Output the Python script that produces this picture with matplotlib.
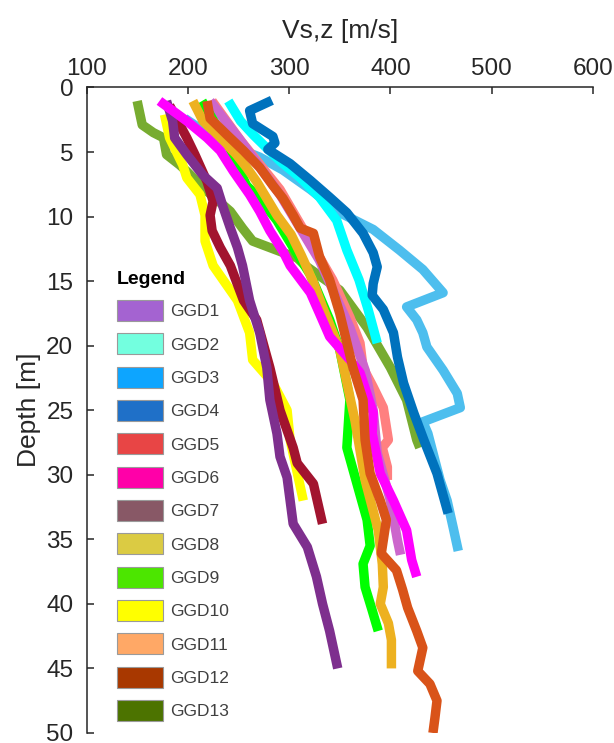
import matplotlib
matplotlib.use("Agg")
import matplotlib.pyplot as plt
import matplotlib.patches as mpatches

plt.rcParams['font.family'] = ['Liberation Sans', 'DejaVu Sans']

# Vs profiles: (depth [m], Vs [m/s]) per profile, named by line colour
olive_depth = [1.05, 2.9, 3.5, 3.9, 5.2, 6.0, 6.5, 7.9, 9.6, 10.9, 11.9, 12.7, 13.2, 13.8, 15.7, 18.6, 21.7, 24.2, 27.3, 27.9]
olive_vs = [150, 155, 166, 176, 179, 192, 199, 217, 242, 254, 264, 291, 308, 316, 350, 377, 400, 416, 426, 429]

yellow_depth = [2.1, 3.9, 6.0, 7.0, 8.3, 9.9, 11.9, 13.8, 16.5, 19.0, 21.1, 22.9, 25.0, 27.3, 32.0]
yellow_vs = [177, 182, 195, 199, 212, 217, 217, 225, 249, 261, 264, 284, 298, 301, 314]

darkred_depth = [1.4, 3.9, 5.2, 7.3, 8.8, 9.9, 11.1, 12.4, 13.8, 16.5, 18.0, 21.7, 25.0, 27.9, 29.1, 30.7, 33.8]
darkred_vs = [182, 199, 207, 219, 225, 222, 224, 232, 242, 255, 268, 281, 291, 304, 308, 324, 333]

purple_depth = [1.05, 2.6, 3.9, 5.2, 6.8, 7.8, 9.3, 10.9, 12.4, 13.8, 16.5, 19.0, 21.7, 24.2, 26.8, 28.6,
                30.2, 32.0, 33.8, 35.6, 37.9, 40.0, 42.1, 45.0]
purple_vs = [179, 185, 187, 199, 215, 229, 235, 242, 249, 254, 261, 271, 278, 281, 288, 291,
             298, 301, 304, 318, 327, 333, 340, 348]

lightblue_depth = [2.4, 3.7, 4.8, 5.4, 6.4, 7.9, 9.7, 11.0, 12.6, 14.1, 15.9, 17.0, 18.0, 19.0, 20.1, 21.9,
                   23.7, 24.8, 25.9, 26.8, 28.3, 30.4, 32.0, 34.1, 35.9]
lightblue_vs = [197, 222, 252, 271, 294, 321, 350, 383, 409, 432, 452, 416, 426, 432, 436, 452,
                466, 469, 432, 437, 442, 449, 456, 462, 467]

cyan_depth = [1.05, 2.6, 3.7, 4.7, 5.7, 7.0, 8.5, 10.3, 12.6, 14.9, 17.2, 19.8]
cyan_vs = [240, 252, 265, 278, 291, 311, 330, 347, 357, 369, 378, 387]

blue_depth = [1.0, 1.8, 2.8, 3.8, 4.3, 4.8, 5.9, 7.2, 8.5, 9.7, 11.3, 12.8, 13.9, 15.2, 16.1, 17.2,
              19.0, 20.9, 22.9, 25.2, 27.3, 29.9, 33.0]
blue_vs = [283, 261, 264, 284, 286, 279, 301, 321, 340, 357, 373, 383, 387, 383, 382, 393,
           403, 407, 413, 423, 433, 446, 457]

salmon_depth = [1.05, 4.1, 7.9, 11.8, 14.9, 17.8, 19.8, 21.7, 23.2, 24.8, 27.3, 27.9, 29.4, 30.4]
salmon_vs = [224, 252, 291, 320, 343, 360, 370, 373, 383, 393, 398, 392, 397, 397]

orchid_depth = [1.05, 4.1, 8.3, 13.4, 18.6, 21.9, 25.0, 28.3, 32.0, 35.1, 36.2]
orchid_vs = [222, 252, 291, 330, 360, 375, 383, 387, 400, 407, 410]

green_depth = [1.05, 4.8, 7.6, 8.6, 10.3, 12.4, 14.5, 18.0, 20.3, 24.2, 27.9, 30.7, 33.5, 35.5, 36.9,
               38.7, 40.5, 42.1]
green_vs = [214, 242, 258, 271, 288, 304, 321, 340, 350, 360, 357, 367, 377, 380, 373,
            375, 382, 388]

mustard_depth = [1.05, 2.6, 3.9, 5.2, 6.2, 7.3, 8.6, 9.9, 11.4, 13.0, 14.9, 17.0, 20.3, 25.8, 30.4,
                 34.3, 36.9, 38.7, 40.0, 41.5, 42.8, 45.0]
mustard_vs = [205, 215, 232, 248, 258, 268, 278, 288, 302, 312, 323, 333, 350, 365, 375,
              388, 392, 393, 390, 398, 401, 401]

magenta_depth = [1.05, 2.6, 3.9, 4.9, 6.5, 8.3, 9.6, 11.1, 12.7, 13.8, 15.9, 17.5, 19.3, 21.1, 22.1,
                 25.2, 26.8, 29.9, 32.0, 34.3, 36.6, 37.9]
magenta_vs = [172, 199, 219, 232, 245, 261, 271, 281, 294, 301, 321, 330, 340, 360, 370,
              383, 382, 390, 403, 416, 421, 426]

orange_depth = [1.05, 2.4, 3.7, 4.9, 6.2, 7.6, 8.6, 9.9, 10.9, 11.3, 13.1, 14.9, 17.5, 21.7, 24.2,
                27.3, 29.9, 32.0, 33.5, 36.1, 37.4, 38.9, 40.3, 42.1, 43.4, 45.2, 46.2, 47.5, 48.8, 50.0]
orange_vs = [219, 222, 239, 255, 271, 284, 294, 304, 311, 324, 330, 340, 350, 363, 373,
             375, 380, 390, 396, 391, 406, 412, 417, 426, 432, 427, 439, 446, 444, 442]

# legend entries (the legend of the original is its own colour key)
legend_labels = ['GGD1', 'GGD2', 'GGD3', 'GGD4', 'GGD5', 'GGD6', 'GGD7',
                 'GGD8', 'GGD9', 'GGD10', 'GGD11', 'GGD12', 'GGD13']
legend_colors = ['#A463D1', '#73FFDF', '#0DA5FF', '#1F70C8', '#E84545', '#FF00A8', '#885866',
                 '#DBCB43', '#4CE600', '#FFFF00', '#FFA866', '#A83800', '#4C7300']

profiles = [
    (olive_vs, olive_depth, '#77AC30'),
    (yellow_vs, yellow_depth, '#FFFF00'),
    (darkred_vs, darkred_depth, '#A2142F'),
    (purple_vs, purple_depth, '#7E2F8E'),
    (lightblue_vs, lightblue_depth, '#4DBEEE'),
    (cyan_vs, cyan_depth, '#00FFFF'),
    (blue_vs, blue_depth, '#0072BD'),
    (salmon_vs, salmon_depth, '#FF8080'),
    (orchid_vs, orchid_depth, '#CC66CC'),
    (green_vs, green_depth, '#00FF00'),
    (mustard_vs, mustard_depth, '#EDB120'),
    (magenta_vs, magenta_depth, '#FF00FF'),
    (orange_vs, orange_depth, '#D95319'),
]

fig = plt.figure(figsize=(6.14, 7.43), dpi=100)
ax = fig.add_axes([0.1409, 0.0135, 0.8249, 0.8688])

for vs, depth, col in profiles:
    ax.plot(vs, depth, color=col, linewidth=6.8, solid_capstyle='butt', solid_joinstyle='round')

ax.set_xlim(100, 600)
ax.set_ylim(50, 0)
ax.set_xticks([100, 200, 300, 400, 500, 600])
ax.set_yticks(range(0, 51, 5))

ax.xaxis.tick_top()
ax.xaxis.set_label_position('top')
ax.spines['right'].set_visible(False)
ax.spines['bottom'].set_visible(False)
for s in ('top', 'left'):
    ax.spines[s].set_color('#262626')
    ax.spines[s].set_linewidth(1.1)
ax.tick_params(axis='both', direction='in', length=5, width=1.1, color='#262626',
               labelsize=17.5, labelcolor='#262626')
ax.tick_params(axis='x', pad=5.5)
ax.tick_params(axis='y', pad=9.5)

ax.set_xlabel('Vs,z [m/s]', fontsize=19, color='#262626', labelpad=14)
ax.set_ylabel('Depth [m]', fontsize=19, color='#262626', labelpad=4)

handles = [mpatches.Patch(facecolor=c, edgecolor='#9a9a9a', linewidth=0.8, label=l)
           for c, l in zip(legend_colors, legend_labels)]
leg = ax.legend(handles=handles, loc='upper left', bbox_to_anchor=(0.060, 0.716),
                frameon=False, fontsize=12.5, labelcolor='#404040', borderpad=0,
                borderaxespad=0, handlelength=2.63, handleheight=1.5, labelspacing=0.70,
                handletextpad=0.43, title='Legend', alignment='left',
                title_fontproperties={'weight': 'bold', 'size': 14})
leg.set_zorder(10)

fig.savefig('out.png', dpi=100)
